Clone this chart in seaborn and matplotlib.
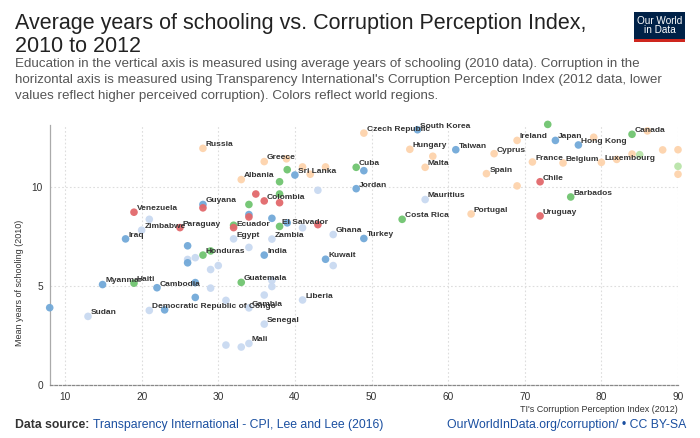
import matplotlib
matplotlib.use("Agg")
import matplotlib.pyplot as plt
import seaborn as sns
import pandas as pd
from matplotlib.patches import Rectangle

# ---- data ----
cpi = [28.0, 36.0, 33.0, 34.9, 36.0, 38.0, 38.0, 34.0, 28.0, 28.0,
       19.0, 21.0, 20.0, 25.0, 32.0, 32.0, 34.0, 34.0, 32.0, 17.9,
       26.0, 34.0, 28.0, 29.0, 36.0, 26.0, 27.0, 26.0, 30.0, 29.0,
       14.9, 19.0, 22.0, 27.0, 29.0, 33.0, 36.0, 27.0, 31.0, 8.0,
       21.0, 23.0, 13.0, 34.0, 36.0, 31.0, 33.0, 34.0, 38.9, 39.0,
       40.0, 41.0, 42.0, 44.0, 38.0, 43.0, 48.0, 49.0, 48.0, 49.0,
       56.0, 55.0, 58.0, 57.0, 61.0, 37.0, 39.0, 38.0, 41.0, 43.0,
       45.0, 49.0, 37.0, 57.0, 54.0, 63.0, 44.0, 45.0, 37.0, 37.0,
       41.0, 73.0, 69.0, 74.0, 79.0, 77.0, 84.0, 86.0, 66.0, 71.0,
       75.0, 80.0, 82.0, 84.0, 85.0, 88.0, 90.0, 90.0, 90.0, 65.0,
       69.0, 72.0, 76.0, 72.0]
schooling = [11.97, 11.30, 10.39, 9.66, 9.31, 9.22, 9.66, 9.13, 9.13, 8.96,
             8.74, 8.38, 7.83, 7.96, 8.08, 7.96, 8.62, 8.50, 7.39, 7.39,
             7.04, 6.96, 6.57, 6.78, 6.57, 6.35, 6.44, 6.18, 6.04, 5.84,
             5.08, 5.15, 4.92, 5.18, 4.90, 5.19, 4.55, 4.43, 4.28, 3.91,
             3.77, 3.80, 3.47, 3.90, 3.08, 2.02, 1.92, 2.10, 11.44, 10.89,
             10.62, 11.03, 10.66, 11.03, 10.28, 9.85, 11.01, 10.84, 9.93, 12.74,
             12.91, 11.92, 11.57, 11.01, 11.90, 8.43, 8.20, 8.02, 7.95, 8.11,
             7.61, 7.41, 7.38, 9.38, 8.38, 8.65, 6.36, 6.04, 5.29, 4.98,
             4.30, 13.18, 12.37, 12.37, 12.53, 12.14, 12.68, 12.85, 11.70, 11.28,
             11.23, 11.26, 11.41, 11.68, 11.65, 11.89, 11.90, 10.66, 11.06, 10.69,
             10.07, 10.28, 9.51, 8.55]
region = ["EU", "EU", "EU", "SA", "SA", "SA", "NA", "NA", "AS", "SA",
          "SA", "AF", "AF", "SA", "NA", "SA", "AS", "SA", "AF", "AS",
          "AS", "AF", "NA", "NA", "AS", "AF", "AF", "AS", "AF", "AF",
          "AS", "NA", "AS", "AS", "AF", "NA", "AF", "AS", "AF", "AS",
          "AF", "AS", "AF", "AF", "AF", "AF", "AF", "AF", "EU", "NA",
          "AS", "EU", "EU", "EU", "NA", "AF", "NA", "AS", "AS", "EU",
          "AS", "EU", "EU", "EU", "AS", "AS", "AS", "NA", "AF", "SA",
          "AF", "AS", "AF", "AF", "NA", "EU", "AS", "AF", "AF", "AF",
          "AF", "NA", "EU", "AS", "EU", "AS", "NA", "EU", "EU", "EU",
          "EU", "EU", "EU", "EU", "OC", "EU", "EU", "EU", "OC", "EU",
          "EU", "SA", "NA", "SA"]
labels = ["Russia", "Greece", "Albania", "", "Colombia", "", "", "", "Guyana", "",
          "Venezuela", "", "Zimbabwe", "Paraguay", "", "Ecuador", "", "", "Egypt", "Iraq",
          "", "", "Honduras", "", "India", "", "", "", "", "",
          "Myanmar", "Haiti", "Cambodia", "", "", "Guatemala", "", "", "", "",
          "Democratic Republic of Congo", "", "Sudan", "Gambia", "Senegal", "", "", "Mali", "", "",
          "Sri Lanka", "", "", "", "", "", "Cuba", "", "Jordan", "Czech Republic",
          "South Korea", "Hungary", "", "Malta", "Taiwan", "", "", "El Salvador", "", "",
          "Ghana", "Turkey", "Zambia", "Mauritius", "Costa Rica", "Portugal", "Kuwait", "", "", "",
          "Liberia", "", "Ireland", "Japan", "", "Hong Kong", "Canada", "", "Cyprus", "France",
          "Belgium", "Luxembourg", "", "", "", "", "", "", "", "Spain",
          "", "Chile", "Barbados", "Uruguay"]
x_ticks = [10, 20, 30, 40, 50, 60, 70, 80, 90]
y_ticks = [0, 5, 10]

palette = {"AF": "#c9d9f1", "AS": "#72a9d8", "EU": "#fdd3ac",
           "NA": "#70c470", "SA": "#e2686b", "OC": "#b9e4a9"}

df = pd.DataFrame({"cpi": cpi, "school": schooling, "region": region, "label": labels})

sns.set_style("white")
plt.rcParams["font.family"] = ["Liberation Sans", "DejaVu Sans"]

fig = plt.figure(figsize=(7, 4.38), dpi=100)
ax = fig.add_axes([49.7 / 700, 1 - 385 / 438, (678 - 49.7) / 700, (385 - 125) / 438])

sns.scatterplot(data=df, x="cpi", y="school", hue="region", palette=palette,
                s=30, linewidth=0, alpha=0.95, legend=False, ax=ax, zorder=3,
                clip_on=False)

for _, r in df.iterrows():
    if r["label"]:
        ax.annotate(r["label"], (r["cpi"], r["school"]), xytext=(2, 1.5),
                    textcoords="offset points", fontsize=6.0, fontweight="bold",
                    color="#333333", ha="left", va="baseline", zorder=4)

ax.set_xlim(8, 90)
ax.set_ylim(0, 13.15)
ax.set_xticks(x_ticks)
ax.set_yticks(y_ticks)
ax.tick_params(axis="both", length=0, labelsize=7.3, labelcolor="#333333", pad=5)
ax.grid(True, linestyle=(0, (1.5, 2)), color="#dddddd", linewidth=0.8)
for s in ["top", "right"]:
    ax.spines[s].set_visible(False)
ax.spines["left"].set_color("#aaaaaa")
ax.spines["left"].set_linewidth(0.9)
ax.spines["bottom"].set_color("#888888")
ax.spines["bottom"].set_linestyle((0, (2, 1.5)))
ax.spines["bottom"].set_linewidth(0.9)
ax.set_xlabel("")
ax.set_ylabel("")

fig.text(678 / 700, 1 - 410 / 438, "TI's Corruption Perception Index (2012)",
         ha="right", va="center", fontsize=6.5, color="#333333")
fig.text(20 / 700, 1 - 283 / 438, "Mean years of schooling (2010)", rotation=90,
         ha="center", va="center", fontsize=6.5, color="#333333")

# header
fig.text(15 / 700, 1 - 29 / 438, "Average years of schooling vs. Corruption Perception Index,",
         ha="left", va="baseline", fontsize=15.5, color="#222222")
fig.text(15 / 700, 1 - 52 / 438, "2010 to 2012",
         ha="left", va="baseline", fontsize=15.5, color="#222222")
sub = ("Education in the vertical axis is measured using average years of schooling (2010 data). Corruption in the\n"
       "horizontal axis is measured using Transparency International's Corruption Perception Index (2012 data, lower\n"
       "values reflect higher perceived corruption). Colors reflect world regions.")
fig.text(15 / 700, 1 - 58.5 / 438, sub, ha="left", va="top", fontsize=9.6,
         color="#555555", linespacing=1.42)

# logo
lx0, ly0, lw, lh = 634 / 700, 1 - 42 / 438, 51 / 700, 30 / 438
fig.patches.append(Rectangle((lx0, ly0), lw, lh, transform=fig.transFigure,
                             facecolor="#002147", edgecolor="none", zorder=5))
fig.patches.append(Rectangle((lx0, ly0), lw, 3 / 438, transform=fig.transFigure,
                             facecolor="#ce261e", edgecolor="none", zorder=6))
fig.text(lx0 + lw / 2, ly0 + lh / 2 + 1.5 / 438, "Our World\nin Data", ha="center", va="center",
         fontsize=7.2, color="white", linespacing=0.95, zorder=7)

# footer
t = fig.text(15 / 700, 1 - 425 / 438, "Data source: ", ha="left", va="center",
             fontsize=8.8, fontweight="bold", color="#333333")
fig.canvas.draw()
bb = t.get_window_extent()
fig.text(bb.x1 / 700, 1 - 425 / 438, "Transparency International - CPI, Lee and Lee (2016)",
         ha="left", va="center", fontsize=8.8, color="#1a4fa0")
fig.text(686 / 700, 1 - 425 / 438, "OurWorldInData.org/corruption/ \u2022 CC BY-SA",
         ha="right", va="center", fontsize=8.8, color="#1a4fa0")

fig.savefig("out.png", dpi=100)
